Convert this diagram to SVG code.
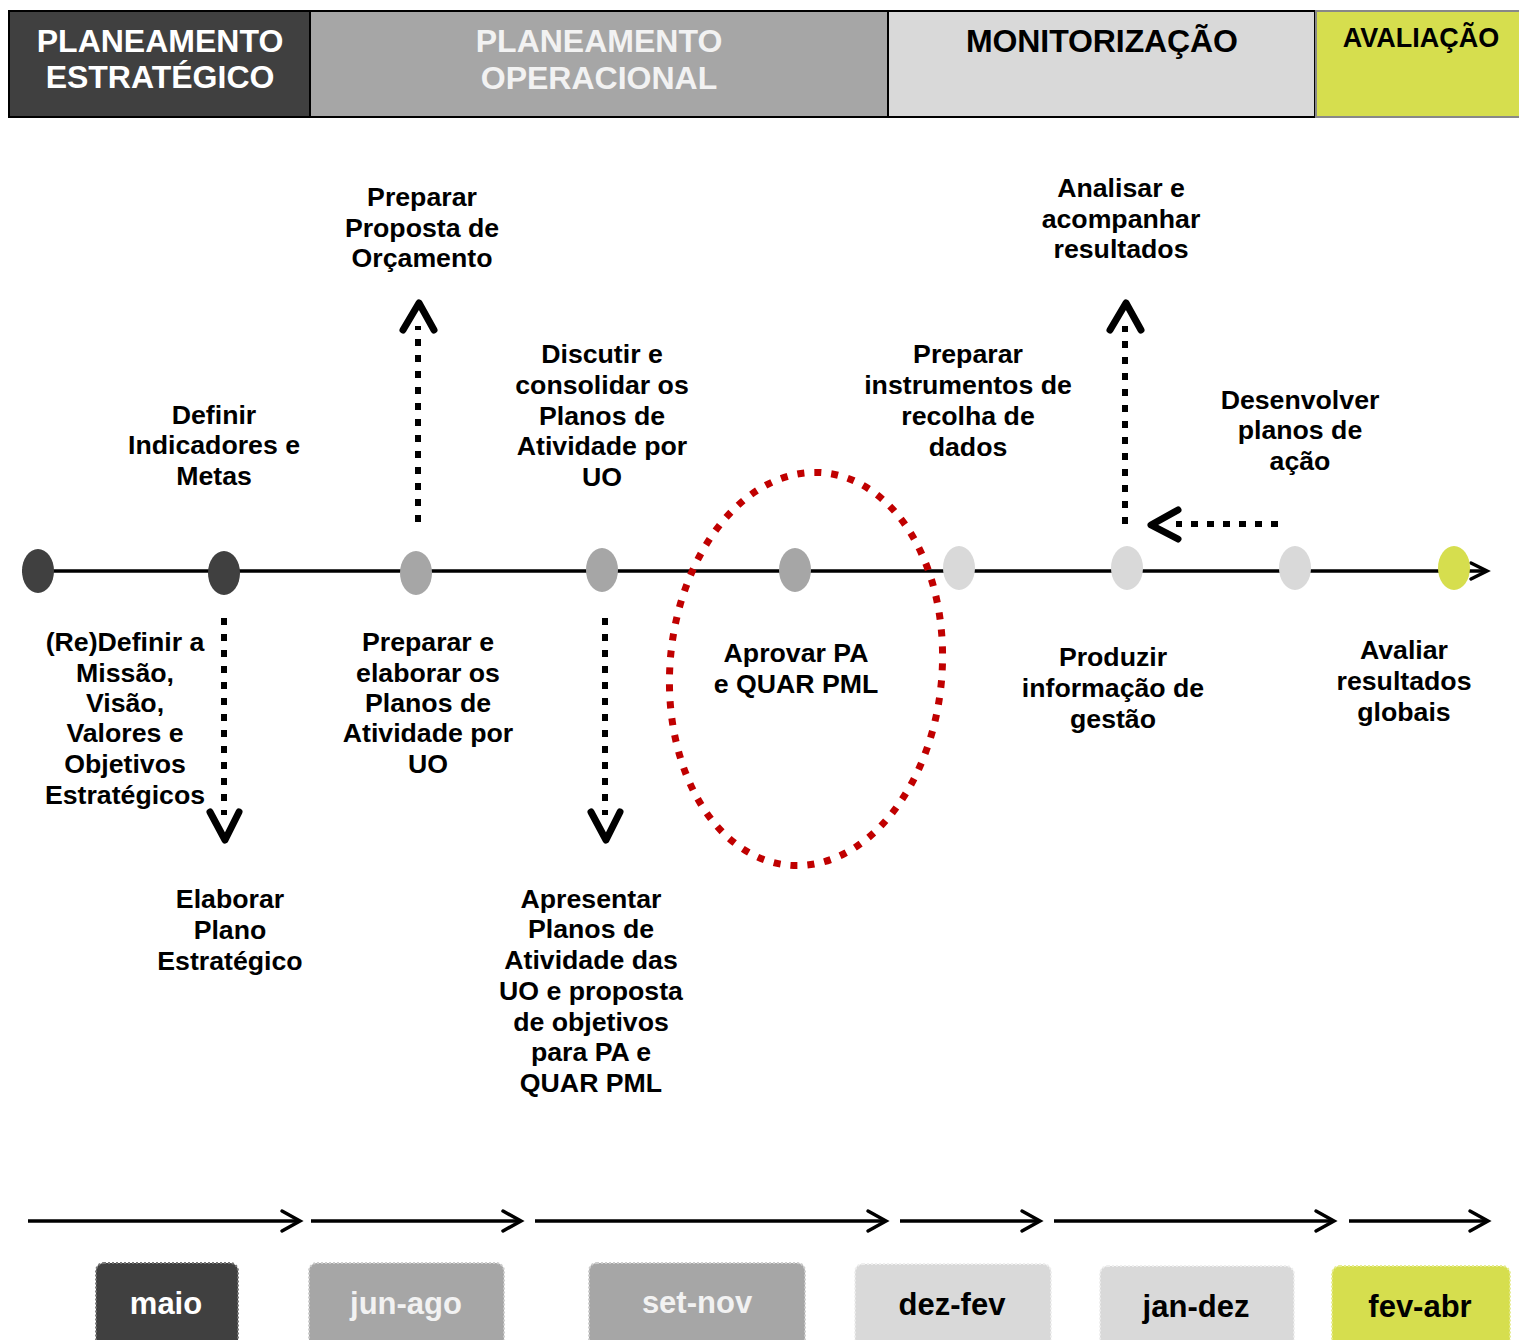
<svg xmlns="http://www.w3.org/2000/svg" width="1519" height="1340" viewBox="0 0 1519 1340">
<style>
text{font-family:"Liberation Sans",Arial,sans-serif;font-weight:bold;text-anchor:middle}
.lbl{font-size:26.7px;fill:#000}
.hdr{font-size:32px}
.per{font-size:31px}
.dot{fill:none;stroke:#000;stroke-width:6;stroke-dasharray:7 9}
.head{fill:none;stroke:#000;stroke-width:7;stroke-linecap:round;stroke-linejoin:round}
.arr{fill:none;stroke:#000;stroke-width:3.5}
.chev{fill:none;stroke:#000;stroke-width:3.5;stroke-linecap:round;stroke-linejoin:miter}
.box{stroke-width:2;stroke-dasharray:2 2}
</style>
<rect width="1519" height="1340" fill="#fff"/>
<g id="header">
<rect x="9" y="11" width="301" height="106" fill="#404040" stroke="#000" stroke-width="2"/>
<text class="hdr" x="160" y="52" fill="#fff">PLANEAMENTO</text>
<text class="hdr" x="160" y="88" fill="#fff">ESTRATÉGICO</text>
<rect x="310" y="11" width="578" height="106" fill="#a6a6a6" stroke="#000" stroke-width="2"/>
<text class="hdr" x="599" y="52" fill="#f2f2f2">PLANEAMENTO</text>
<text class="hdr" x="599" y="89" fill="#f2f2f2">OPERACIONAL</text>
<rect x="888" y="11" width="427" height="106" fill="#d9d9d9" stroke="#000" stroke-width="2"/>
<text class="hdr" x="1102" y="52" fill="#000" textLength="272">MONITORIZAÇÃO</text>
<rect x="1316" y="11" width="205" height="106" fill="#d6de4e" stroke="#888" stroke-width="2"/>
<text x="1421" y="47" fill="#000" font-size="27">AVALIAÇÃO</text>
</g>
<g id="connectors">
<line class="arr" x1="22" y1="571" x2="1486" y2="571"/>
<polyline class="chev" points="1471,563 1487,571 1471,579"/>
<line class="dot" x1="418" y1="522" x2="418" y2="326"/>
<polyline class="head" points="403,330 419,303 434,330"/>
<line class="dot" x1="1125" y1="524" x2="1125" y2="326"/>
<polyline class="head" points="1110,330 1126,303 1141,330"/>
<line class="dot" x1="224" y1="618" x2="224" y2="815"/>
<polyline class="head" points="210,812 225,840 239,812"/>
<line class="dot" x1="605" y1="618" x2="605" y2="815"/>
<polyline class="head" points="591,812 606,840 620,812"/>
<line class="dot" x1="1278" y1="524" x2="1176" y2="524"/>
<polyline class="head" points="1178,510 1151,525 1178,539"/>
<line class="arr" x1="28" y1="1221" x2="298" y2="1221"/><polyline class="chev" points="282,1211 300,1221 282,1231"/>
<line class="arr" x1="311" y1="1221" x2="519" y2="1221"/><polyline class="chev" points="503,1211 521,1221 503,1231"/>
<line class="arr" x1="535" y1="1221" x2="884" y2="1221"/><polyline class="chev" points="868,1211 886,1221 868,1231"/>
<line class="arr" x1="900" y1="1221" x2="1038" y2="1221"/><polyline class="chev" points="1022,1211 1040,1221 1022,1231"/>
<line class="arr" x1="1054" y1="1221" x2="1332" y2="1221"/><polyline class="chev" points="1316,1211 1334,1221 1316,1231"/>
<line class="arr" x1="1349" y1="1221" x2="1486" y2="1221"/><polyline class="chev" points="1470,1211 1488,1221 1470,1231"/>
</g>
<g id="highlight">
<ellipse cx="806" cy="669" rx="136" ry="197" transform="rotate(5 806 669)" fill="none" stroke="#c00000" stroke-width="7" stroke-dasharray="7 10"/>
</g>
<g id="milestones">
<ellipse cx="38" cy="571" rx="16" ry="22" fill="#404040"/>
<ellipse cx="224" cy="573" rx="16" ry="22" fill="#404040"/>
<ellipse cx="416" cy="573" rx="16" ry="22" fill="#a6a6a6"/>
<ellipse cx="602" cy="570" rx="16" ry="22" fill="#a6a6a6"/>
<ellipse cx="795" cy="570" rx="16" ry="22" fill="#a6a6a6"/>
<ellipse cx="959" cy="568" rx="16" ry="22" fill="#d9d9d9"/>
<ellipse cx="1127" cy="568" rx="16" ry="22" fill="#d9d9d9"/>
<ellipse cx="1295" cy="568" rx="16" ry="22" fill="#d9d9d9"/>
<ellipse cx="1454" cy="568" rx="16" ry="22" fill="#d6de4e"/>
</g>
<g id="n-orcamento"><text class="lbl" x="422" y="206">Preparar</text><text class="lbl" x="422" y="237">Proposta de</text><text class="lbl" x="422" y="267">Orçamento</text></g>
<g id="n-analisar"><text class="lbl" x="1121" y="197">Analisar e</text><text class="lbl" x="1121" y="228">acompanhar</text><text class="lbl" x="1121" y="258">resultados</text></g>
<g id="n-discutir"><text class="lbl" x="602" y="363">Discutir e</text><text class="lbl" x="602" y="394">consolidar os</text><text class="lbl" x="602" y="425">Planos de</text><text class="lbl" x="602" y="455">Atividade por</text><text class="lbl" x="602" y="486">UO</text></g>
<g id="n-instrumentos"><text class="lbl" x="968" y="363">Preparar</text><text class="lbl" x="968" y="394">instrumentos de</text><text class="lbl" x="968" y="425">recolha de</text><text class="lbl" x="968" y="456">dados</text></g>
<g id="n-desenvolver"><text class="lbl" x="1300" y="409">Desenvolver</text><text class="lbl" x="1300" y="439">planos de</text><text class="lbl" x="1300" y="470">ação</text></g>
<g id="n-indicadores"><text class="lbl" x="214" y="424">Definir</text><text class="lbl" x="214" y="454">Indicadores e</text><text class="lbl" x="214" y="485">Metas</text></g>
<g id="n-missao"><text class="lbl" x="125" y="651">(Re)Definir a</text><text class="lbl" x="125" y="682">Missão,</text><text class="lbl" x="125" y="712">Visão,</text><text class="lbl" x="125" y="742">Valores e</text><text class="lbl" x="125" y="773">Objetivos</text><text class="lbl" x="125" y="804">Estratégicos</text></g>
<g id="n-elaborar-pa"><text class="lbl" x="428" y="651">Preparar e</text><text class="lbl" x="428" y="682">elaborar os</text><text class="lbl" x="428" y="712">Planos de</text><text class="lbl" x="428" y="742">Atividade por</text><text class="lbl" x="428" y="773">UO</text></g>
<g id="n-aprovar"><text class="lbl" x="796" y="662">Aprovar PA</text><text class="lbl" x="796" y="693">e QUAR PML</text></g>
<g id="n-produzir"><text class="lbl" x="1113" y="666">Produzir</text><text class="lbl" x="1113" y="697">informação de</text><text class="lbl" x="1113" y="728">gestão</text></g>
<g id="n-avaliar"><text class="lbl" x="1404" y="659">Avaliar</text><text class="lbl" x="1404" y="690">resultados</text><text class="lbl" x="1404" y="721">globais</text></g>
<g id="n-plano-estrategico"><text class="lbl" x="230" y="908">Elaborar</text><text class="lbl" x="230" y="939">Plano</text><text class="lbl" x="230" y="970">Estratégico</text></g>
<g id="n-apresentar"><text class="lbl" x="591" y="908">Apresentar</text><text class="lbl" x="591" y="938">Planos de</text><text class="lbl" x="591" y="969">Atividade das</text><text class="lbl" x="591" y="1000">UO e proposta</text><text class="lbl" x="591" y="1031">de objetivos</text><text class="lbl" x="591" y="1061">para PA e</text><text class="lbl" x="591" y="1092">QUAR PML</text></g>
<g id="periods">
<g id="p-maio"><rect class="box" x="96" y="1263" width="142" height="90" rx="8" fill="#404040" stroke="#777"/><text class="per" x="166" y="1314" fill="#fff">maio</text></g>
<g id="p-junago"><rect class="box" x="309" y="1263" width="195" height="90" rx="8" fill="#a6a6a6" stroke="#ccc"/><text class="per" x="406" y="1314" fill="#f2f2f2">jun-ago</text></g>
<g id="p-setnov"><rect class="box" x="589" y="1263" width="216" height="90" rx="8" fill="#a6a6a6" stroke="#ccc"/><text class="per" x="697" y="1313" fill="#f2f2f2">set-nov</text></g>
<g id="p-dezfev"><rect class="box" x="855" y="1264" width="196" height="90" rx="8" fill="#d9d9d9" stroke="#eee"/><text class="per" x="952" y="1315" fill="#000">dez-fev</text></g>
<g id="p-jandez"><rect class="box" x="1100" y="1266" width="194" height="90" rx="8" fill="#d9d9d9" stroke="#eee"/><text class="per" x="1196" y="1317" fill="#000">jan-dez</text></g>
<g id="p-fevabr"><rect class="box" x="1332" y="1266" width="178" height="90" rx="8" fill="#d6de4e" stroke="#e6ec90"/><text class="per" x="1420" y="1317" fill="#000">fev-abr</text></g>
</g>
</svg>
